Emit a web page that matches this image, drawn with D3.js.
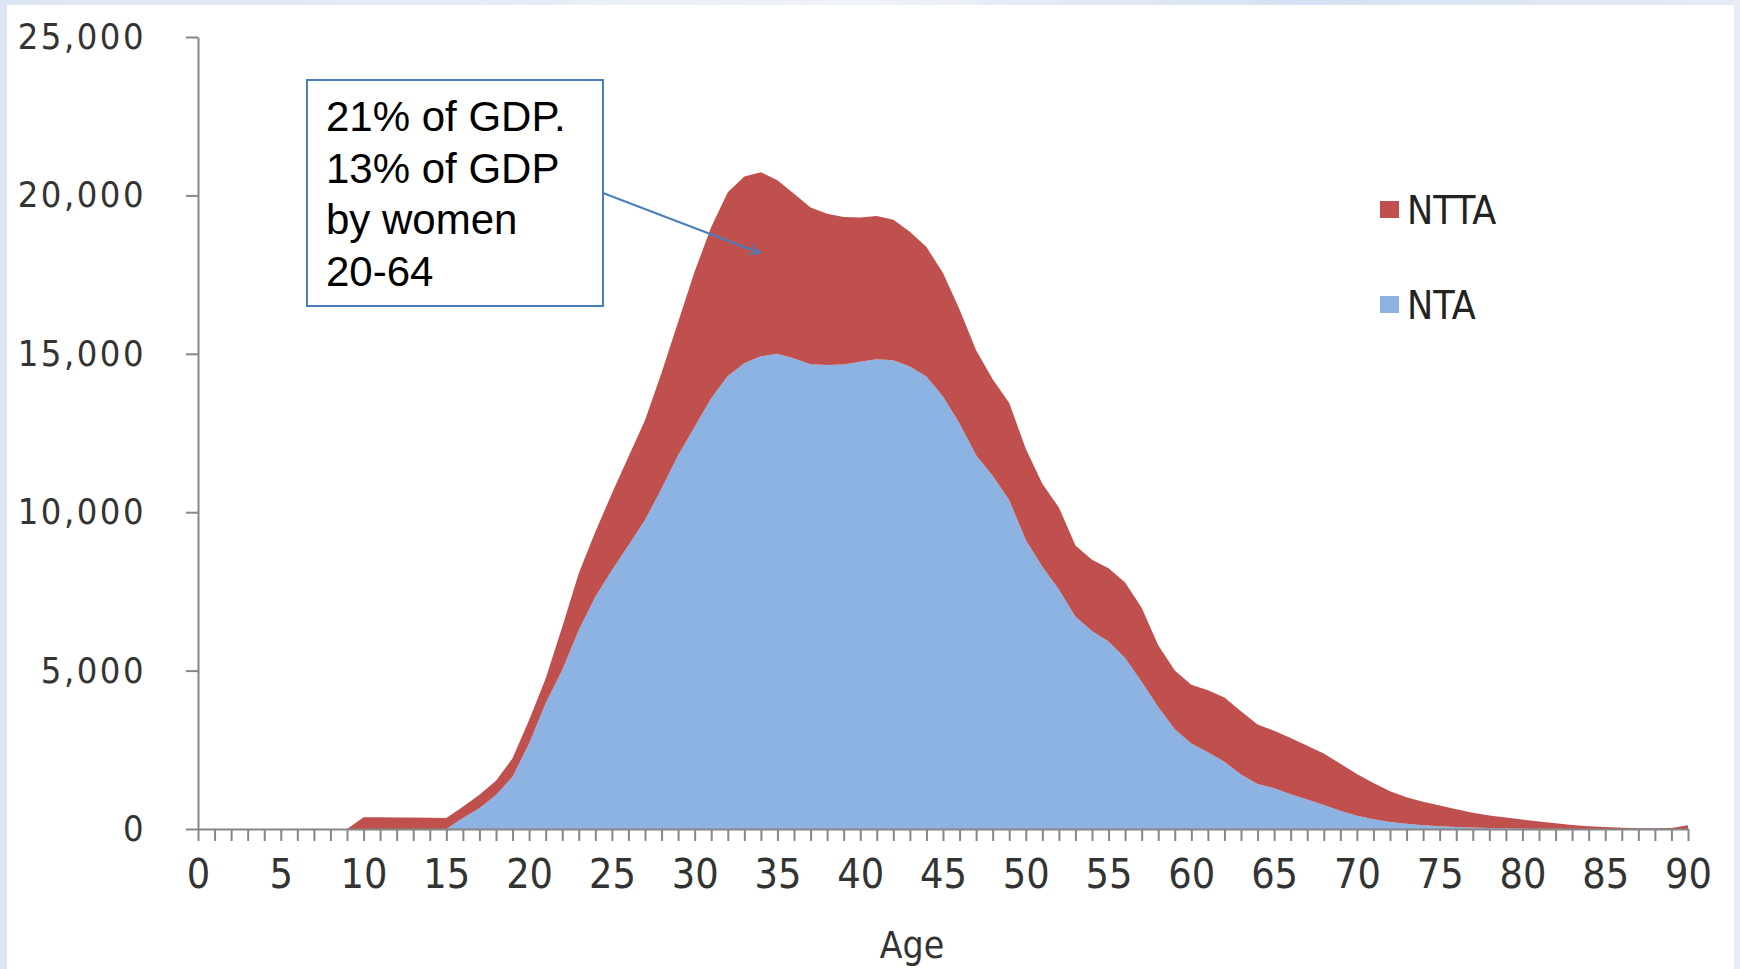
<!DOCTYPE html>
<html>
<head>
<meta charset="utf-8">
<script src="https://d3js.org/d3.v7.min.js"></script>
<style>
  html, body { margin: 0; padding: 0; background: #fff; }
  svg { display: block; }
</style>
</head>
<body>
<script>
// ages 0..90
var ages = d3.range(0, 91);

// NTA (blue, bottom layer), read per age 0..90
var ntaValues = [
  0, 0, 0, 0, 0, 0, 0, 0, 0, 0,
  0, 0, 0, 0, 0, 0, 347, 653, 1070, 1650,
  2700, 3970, 5020, 6280, 7330, 8170, 8960, 9750, 10750, 11800,
  12700, 13600, 14300, 14700, 14920, 15000, 14850, 14670, 14650, 14660,
  14750, 14830, 14800, 14600, 14280, 13650, 12800, 11800, 11150, 10380,
  9120, 8280, 7560, 6700, 6250, 5920, 5400, 4650, 3850, 3150,
  2700, 2420, 2120, 1720, 1420, 1290, 1100, 930, 760, 580,
  420, 310, 220, 165, 120, 90, 65, 45, 30, 20,
  12, 8, 5, 3, 2, 1, 0, 0, 0, 0,
  0
];

// NTTA (red, stacked on NTA)
var nttaValues = [
  0, 0, 0, 0, 0, 0, 0, 0, 0, 0,
  370, 370, 365, 360, 357, 345, 356, 430, 450, 580,
  740, 780, 1360, 1790, 2050, 2420, 2790, 3150, 3650, 4200,
  4900, 5400, 5800, 5900, 5810, 5480, 5200, 4950, 4770, 4660,
  4550, 4520, 4430, 4250, 4090, 3900, 3600, 3310, 3050, 3070,
  2880, 2620, 2590, 2250, 2250, 2310, 2380, 2330, 1950, 1850,
  1850, 1960, 2030, 2000, 1880, 1810, 1770, 1700, 1620, 1480,
  1320, 1140, 970, 835, 740, 650, 555, 465, 400, 340,
  288, 232, 175, 127, 88, 59, 40, 25, 20, 30,
  120
];

var seriesNames = ["NTA", "NTTA"];
var legendNames = ["NTTA", "NTA"];
var yTicks = [0, 5000, 10000, 15000, 20000, 25000];
var xLabelTicks = d3.range(0, 91, 5);
var noteLines = ["21% of GDP.", "13% of GDP", "by women", "20-64"];
var xTitle = "Age";

var W = 1740, H = 969;
var margin = { top: 37, right: 52, bottom: 140, left: 198 };
var width = W - margin.left - margin.right,
    height = H - margin.top - margin.bottom;

var narrow = "'Liberation Sans Narrow', 'Arial Narrow', 'DejaVu Sans Condensed', sans-serif";

var svg = d3.select("body").append("svg")
    .attr("width", W)
    .attr("height", H);

// slide-like frame
var defs = svg.append("defs");
var grad = defs.append("linearGradient").attr("id", "edge")
    .attr("x1", 0).attr("y1", 0).attr("x2", 1).attr("y2", 0);
grad.append("stop").attr("offset", "0%").attr("stop-color", "#dde6f3");
grad.append("stop").attr("offset", "50%").attr("stop-color", "#eef2f9");
grad.append("stop").attr("offset", "75%").attr("stop-color", "#d6e1f1");
grad.append("stop").attr("offset", "100%").attr("stop-color", "#e6ecf6");
svg.append("rect").attr("width", W).attr("height", H).attr("fill", "url(#edge)");
svg.append("rect").attr("x", 7).attr("y", 5).attr("width", W - 13).attr("height", H - 5)
    .attr("fill", "#fff");

var g = svg.append("g")
    .attr("transform", "translate(" + margin.left + "," + margin.top + ")");

var x = d3.scaleLinear().domain([0, 90]).range([0, width]);
var y = d3.scaleLinear().domain([0, 25000]).range([height, 0]);
var z = d3.scaleOrdinal().domain(seriesNames).range(["#8db3e2", "#c0504d"]);

var rows = ages.map(function(a, i) {
    return { age: a, NTA: ntaValues[i], NTTA: nttaValues[i] };
});

var stacked = d3.stack().keys(seriesNames)(rows);

var area = d3.area()
    .x(function(d) { return x(d.data.age); })
    .y0(function(d) { return y(d[0]); })
    .y1(function(d) { return y(d[1]); });

g.append("g")
    .selectAll("path")
    .data(stacked)
    .enter().append("path")
    .attr("fill", function(d) { return z(d.key); })
    .attr("d", area);

// y axis
var yAxis = g.append("g")
    .call(d3.axisLeft(y).tickValues(yTicks).tickSize(12).tickSizeOuter(0)
        .tickFormat(d3.format(",")));
yAxis.select(".domain").attr("stroke", "#868686").attr("stroke-width", 2);
yAxis.selectAll(".tick line").attr("stroke", "#868686").attr("stroke-width", 2);
yAxis.selectAll(".tick text")
    .attr("x", -52)
    .attr("fill", "#333")
    .attr("font-family", narrow)
    .attr("font-size", 36)
    .attr("letter-spacing", 2.5);

// x axis, a tick every year, label every 5
var xAxis = g.append("g")
    .attr("transform", "translate(0," + height + ")")
    .call(d3.axisBottom(x).tickValues(ages).tickSize(12).tickSizeOuter(0)
        .tickFormat(function(d) { return xLabelTicks.indexOf(d) >= 0 ? d : ""; }));
xAxis.select(".domain").attr("stroke", "#868686").attr("stroke-width", 2);
xAxis.selectAll(".tick line").attr("stroke", "#868686").attr("stroke-width", 2);
xAxis.selectAll(".tick text")
    .attr("y", 30)
    .attr("fill", "#333")
    .attr("font-family", narrow)
    .attr("font-size", 41);

g.append("text")
    .attr("x", 714)
    .attr("y", height + 129)
    .attr("text-anchor", "middle")
    .attr("fill", "#333")
    .attr("font-family", narrow)
    .attr("font-size", 37)
    .text(xTitle);

// legend
var legend = svg.append("g")
    .selectAll("g")
    .data(legendNames)
    .enter().append("g")
    .attr("transform", function(d, i) { return "translate(1380," + (201 + i * 95) + ")"; });

legend.append("rect")
    .attr("width", 19)
    .attr("height", 17)
    .attr("fill", function(d) { return z(d); });

legend.append("text")
    .attr("x", 27)
    .attr("y", 9)
    .attr("dy", "0.35em")
    .attr("fill", "#222")
    .attr("font-family", narrow)
    .attr("font-size", 39)
    .text(function(d) { return d; });

// annotation box with arrow
defs.append("marker")
    .attr("id", "arrow")
    .attr("viewBox", "0 0 12 12")
    .attr("refX", 11).attr("refY", 6)
    .attr("markerWidth", 12).attr("markerHeight", 12)
    .attr("markerUnits", "userSpaceOnUse")
    .attr("orient", "auto")
    .append("path")
    .attr("d", "M1,1 L11,6 L1,11")
    .attr("fill", "none")
    .attr("stroke", "#4a7ebb")
    .attr("stroke-width", 1.6);

svg.append("line")
    .attr("x1", 603).attr("y1", 193)
    .attr("x2", 760).attr("y2", 253)
    .attr("stroke", "#4a7ebb")
    .attr("stroke-width", 2)
    .attr("marker-end", "url(#arrow)");

svg.append("rect")
    .attr("x", 307).attr("y", 80)
    .attr("width", 296).attr("height", 226)
    .attr("fill", "#fff")
    .attr("stroke", "#4a7ebb")
    .attr("stroke-width", 2);

svg.append("g")
    .selectAll("text")
    .data(noteLines)
    .enter().append("text")
    .attr("x", 326)
    .attr("y", function(d, i) { return 131 + i * 51.7; })
    .attr("fill", "#000")
    .attr("font-family", "'Liberation Sans', Arial, sans-serif")
    .attr("font-size", 42)
    .text(function(d) { return d; });
</script>
</body>
</html>
